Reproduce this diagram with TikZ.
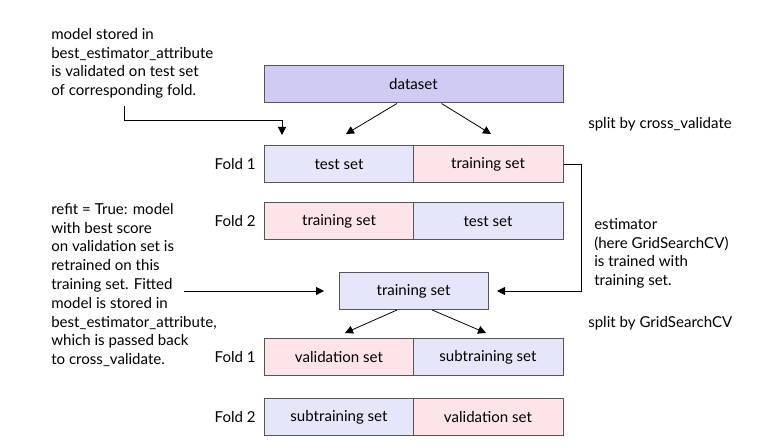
\documentclass[tikz,border=0pt]{standalone}
\usepackage{fontspec}
\setmainfont{Lato}
\usetikzlibrary{arrows.meta}
\definecolor{dsfill}{HTML}{CFCBF3}
\definecolor{blueL}{HTML}{E6E6FA}
\definecolor{pinkL}{HTML}{FDE4E8}
\definecolor{edge}{HTML}{555555}
\begin{document}
\begin{tikzpicture}[x=0.75pt,y=-0.75pt,
  font=\fontsize{11.3}{14.1}\selectfont,
  box/.style={draw=edge, line width=0.75pt, minimum height=27.75pt, inner sep=0pt, minimum width=112.5pt},
  bluebox/.style={box, fill=blueL},
  pinkbox/.style={box, fill=pinkL},
  arr/.style={draw=black, line width=0.6pt, -{Triangle[length=6pt,width=6pt]}},
  note/.style={anchor=north west, align=left, inner sep=0pt},
  lbl/.style={anchor=east, inner sep=0pt}]
\useasboundingbox (0,0) rectangle (782,448);

% top part
\node[box, fill=dsfill, minimum width=224.25pt] (ds) at (413.5,84.5) {dataset};
\node[bluebox] (a1) at (339,164.5) {test set};
\node[pinkbox] (a2) at (488,164.5) {training set};
\node[pinkbox] (b1) at (339,221.5) {training set};
\node[bluebox] (b2) at (488,221.5) {test set};
\node[lbl] (fa) at (256,164.5) {Fold 1};
\node[lbl] (fb) at (256,221.5) {Fold 2};

\coordinate (d1) at (346,134);
\coordinate (d2) at (491,134);
\draw[arr] ([xshift=-12.4pt]ds.south) -- (d1);
\draw[arr] ([xshift=21pt]ds.south) -- (d2);

\node[note] (n1) at (51,28) {model stored in\\best\_estimator\_attribute\\is validated on test set\\of corresponding fold.};
\coordinate (n1s) at (124,106);
\coordinate (n1t) at (282,135);
\draw[arr] (n1s) -- (124,120) -| (n1t);

\node[anchor=west, inner sep=0pt] (s1) at (588,124) {split by cross\_validate};

% middle
\node[bluebox, minimum width=111.75pt] (tr) at (413.5,291) {training set};
\coordinate (trR) at (497,291);
\coordinate (trL) at (324,291);
\draw[arr] (a2.east) -- (581,164.5) -- (581,291) -- (trR);

\node[note] (n3) at (594,218) {estimator\\(here GridSearchCV)\\is trained with\\training set.};

\node[note] (n2) at (51,203) {refit = True: model\\with best score\\on validation set is\\retrained on this\\training set. Fitted\\model is stored in\\best\_estimator\_attribute,\\which is passed back\\to cross\_validate.};
\coordinate (n2e) at (184,291);
\draw[arr] (n2e) -- (trL);

\node[anchor=west, inner sep=0pt] (s2) at (588,323) {split by GridSearchCV};

% bottom part
\coordinate (e1) at (345,333);
\coordinate (e2) at (486,333);
\draw[arr] ([xshift=-12.4pt]tr.south) -- (e1);
\draw[arr] ([xshift=14pt]tr.south) -- (e2);

\node[pinkbox] (c1) at (339,357.5) {validation set};
\node[bluebox] (c2) at (488,357.5) {subtraining set};
\node[bluebox] (g1) at (339,417.5) {subtraining set};
\node[pinkbox] (g2) at (488,417.5) {validation set};
\node[lbl] (fc) at (256,357.5) {Fold 1};
\node[lbl] (fd) at (256,417.5) {Fold 2};
\end{tikzpicture}
\end{document}
